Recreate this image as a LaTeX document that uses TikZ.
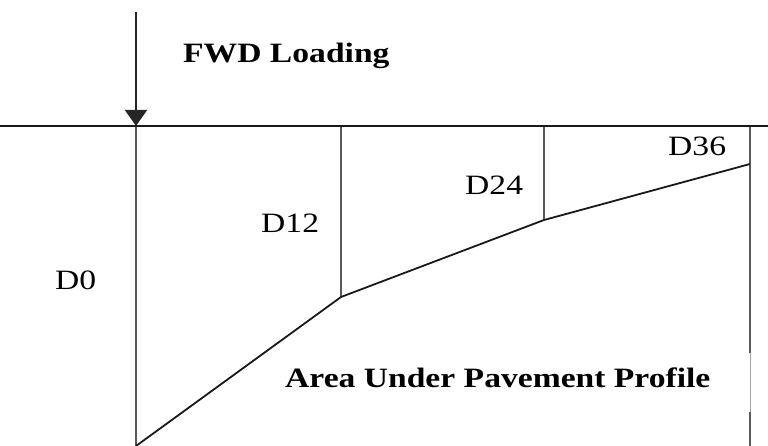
\documentclass[tikz,border=0pt]{standalone}
\usepackage{fontspec}
\setmainfont{Liberation Serif}
\newfontfamily\labelfont[FakeStretch=1.2]{Liberation Serif}
\usetikzlibrary{arrows.meta}
\tikzset{
  surface/.style={line width=2.2pt, black!90},
  gauge/.style={line width=2.8pt, black!65},
  profile/.style={line width=1.8pt, black!90},
  load/.style={line width=1.8pt, black!85, -{Triangle[width=22pt,length=16pt]}},
  lbl/.style={inner sep=0pt, anchor=base west, font=\labelfont\fontsize{28}{30}\selectfont},
  title/.style={lbl, font=\labelfont\bfseries\fontsize{28}{30}\selectfont}
}
\begin{document}
\begin{tikzpicture}[x=1pt, y=-1pt]
  \useasboundingbox (0,0) rectangle (768,446);
  % reference points
  \coordinate (left)  at (0,126);
  \coordinate (right) at (768,126);
  \coordinate (top)   at (136,12);
  \coordinate (g0)    at (136,126);
  \coordinate (g12)   at (341,126);
  \coordinate (g24)   at (544,126);
  \coordinate (g36)   at (750,126);
  \coordinate (b0)    at (136,446);
  \coordinate (d12)   at (341,297);
  \coordinate (d24)   at (544,220);
  \coordinate (d36)   at (750,164);
  \coordinate (e36a)  at (750,353);
  \coordinate (e36b)  at (750,412);
  \coordinate (e36)   at (750,446);
  % geophone lines
  \draw[gauge] (g0) -- (b0);
  \draw[gauge] (g12) -- (d12);
  \draw[gauge] (g24) -- (d24);
  \draw[gauge] (g36) -- (e36a);
  \draw[line width=0.8pt, black!35] (e36a) -- (e36b);
  \draw[gauge] (e36b) -- (e36);
  % deflection basin
  \draw[profile] (b0) -- (d12) -- (d24) -- (d36);
  % pavement surface and load
  \draw[surface] (left) -- (right);
  \draw[load] (top) -- (g0);
  % labels
  \node[title] (fwd)  at (183,63)  {FWD Loading};
  \node[lbl]   (l0)   at (55,290)  {D0};
  \node[lbl]   (l12)  at (261,233) {D12};
  \node[lbl]   (l24)  at (465,195) {D24};
  \node[lbl]   (l36)  at (668,156) {D36};
  \node[title] (area) at (285,387) {Area Under Pavement Profile};
\end{tikzpicture}
\end{document}
